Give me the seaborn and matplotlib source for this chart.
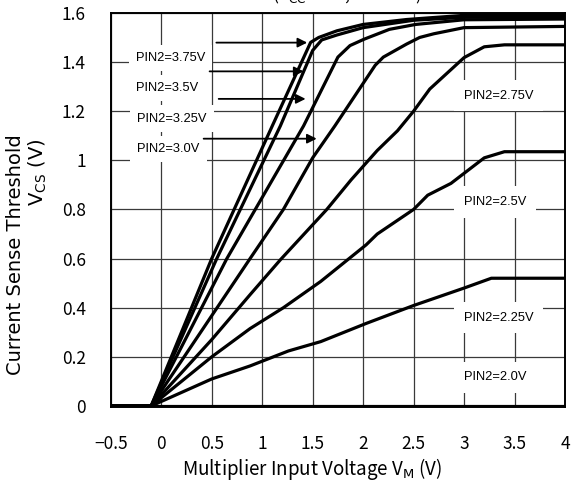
import matplotlib
matplotlib.use('Agg')
import matplotlib.pyplot as plt
import seaborn as sns
import pandas as pd

# ---- data (V_M in V, V_CS in V) ----
vm_375 = [-0.5, -0.1, 0.5, 1.1, 1.48, 1.56, 1.74, 2.0, 2.43, 2.66, 3.0, 4.0]
vcs_375 = [0, 0, 0.60, 1.14, 1.48, 1.50, 1.527, 1.553, 1.573, 1.58, 1.59, 1.592]

vm_350 = [-0.5, -0.1, 0.55, 1.18, 1.5, 1.59, 1.74, 2.0, 2.5, 3.0, 4.0]
vcs_350 = [0, 0, 0.60, 1.14, 1.447, 1.49, 1.51, 1.54, 1.57, 1.582, 1.585]

vm_325 = [-0.5, -0.1, 0.65, 1.41, 1.75, 1.87, 2.01, 2.26, 2.52, 3.0, 4.0]
vcs_325 = [0, 0, 0.60, 1.14, 1.42, 1.467, 1.493, 1.533, 1.553, 1.572, 1.575]

vm_300 = [-0.5, -0.1, 0.88, 1.21, 1.5, 1.72, 2.12, 2.2, 2.43, 2.56, 2.7, 3.0, 4.0]
vcs_300 = [0, 0, 0.60, 0.80, 1.01, 1.14, 1.387, 1.42, 1.473, 1.50, 1.515, 1.54, 1.545]

vm_275 = [-0.5, -0.1, 0.5, 0.88, 1.18, 1.64, 1.88, 2.14, 2.34, 2.5, 2.66, 3.0, 3.2, 3.4, 4.0]
vcs_275 = [0, 0, 0.27, 0.453, 0.595, 0.80, 0.92, 1.04, 1.12, 1.20, 1.29, 1.418, 1.462, 1.47, 1.47]

vm_250 = [-0.5, -0.1, 0.5, 0.88, 1.21, 1.58, 2.03, 2.14, 2.5, 2.64, 2.87, 3.2, 3.4, 4.0]
vcs_250 = [0, 0, 0.20, 0.315, 0.40, 0.507, 0.656, 0.70, 0.80, 0.858, 0.906, 1.01, 1.035, 1.035]

vm_225 = [-0.5, -0.1, 0.5, 0.88, 1.26, 1.58, 2.03, 2.5, 3.0, 3.27, 4.0]
vcs_225 = [0, 0, 0.11, 0.163, 0.224, 0.262, 0.336, 0.409, 0.48, 0.52, 0.52]

vm_200 = [-0.5, 4.0]
vcs_200 = [0, 0]

curves = {
    'PIN2=3.75V': (vm_375, vcs_375),
    'PIN2=3.5V': (vm_350, vcs_350),
    'PIN2=3.25V': (vm_325, vcs_325),
    'PIN2=3.0V': (vm_300, vcs_300),
    'PIN2=2.75V': (vm_275, vcs_275),
    'PIN2=2.5V': (vm_250, vcs_250),
    'PIN2=2.25V': (vm_225, vcs_225),
    'PIN2=2.0V': (vm_200, vcs_200),
}

x_ticks = [-0.5, 0, 0.5, 1, 1.5, 2, 2.5, 3, 3.5, 4]
x_tick_labels = ['\u22120.5', '0', '0.5', '1', '1.5', '2', '2.5', '3', '3.5', '4']
y_ticks = [0, 0.2, 0.4, 0.6, 0.8, 1.0, 1.2, 1.4, 1.6]
y_tick_labels = ['0', '0.2', '0.4', '0.6', '0.8', '1', '1.2', '1.4', '1.6']

rows = []
for name, (xs, ys) in curves.items():
    for xv, yv in zip(xs, ys):
        rows.append({'pin2': name, 'vm': xv, 'vcs': yv})
df = pd.DataFrame(rows)

sns.set_style('white')
plt.rcParams['font.family'] = ['Noto Sans CJK JP', 'DejaVu Sans']
plt.rcParams['axes.unicode_minus'] = True
plt.rcParams['text.color'] = 'black'

fig = plt.figure(figsize=(5.71, 4.96), dpi=100)
ax = fig.add_axes([0.194, 0.179, 0.7955, 0.795])

sns.lineplot(data=df, x='vm', y='vcs', hue='pin2', units='pin2',
             palette=['black'] * len(curves), estimator=None, sort=False,
             linewidth=2.3, legend=False, ax=ax, zorder=4)

ax.set_xlim(-0.5, 4.0)
ax.set_ylim(-0.005, 1.6)
ax.set_xticks(x_ticks)
ax.set_xticklabels(x_tick_labels)
ax.set_yticks(y_ticks)
ax.set_yticklabels(y_tick_labels)
ax.tick_params(axis='both', length=0, labelsize=12.5, colors='black')
ax.tick_params(axis='x', pad=20)
ax.tick_params(axis='y', pad=18)
ax.grid(True, color='#3a3a3a', linewidth=0.9)
ax.set_axisbelow(True)
for s in ax.spines.values():
    s.set_color('black')
    s.set_linewidth(1.4)
ax.set_xlabel('')
ax.set_ylabel('')

# curve labels
lab_font = dict(family='Liberation Sans', fontsize=9.3, color='black')
box = dict(boxstyle='square,pad=0.55', fc='white', ec='none')
left_labels = [
    ('PIN2=3.75V', 0.09, 1.415, 0.546, 1.479, 1.446),
    ('PIN2=3.5V', 0.054, 1.293, 0.479, 1.362, 1.41),
    ('PIN2=3.25V', 0.109, 1.17, 0.569, 1.25, 1.43),
    ('PIN2=3.0V', 0.07, 1.045, 0.42, 1.088, 1.54),
]
for txt, tx, ty, ax0, ay, ax1 in left_labels:
    ax.text(tx, ty, txt, ha='center', va='center', bbox=box, zorder=3, **lab_font)
    ax.annotate('', xy=(ax1, ay), xytext=(ax0, ay),
                arrowprops=dict(arrowstyle='-|>', color='black', lw=1.3,
                                mutation_scale=14, shrinkA=0, shrinkB=0),
                zorder=5)

right_labels = [
    ('PIN2=2.75V', 1.263),
    ('PIN2=2.5V', 0.831),
    ('PIN2=2.25V', 0.36),
    ('PIN2=2.0V', 0.117),
]
for txt, ty in right_labels:
    ax.text(3.0, ty, txt, ha='left', va='center', zorder=3,
            bbox=dict(boxstyle='square,pad=0.75', fc='white', ec='none'), **lab_font)

# axis titles
fig.text(0.546, 0.0545, 'Multiplier Input Voltage V$_\\mathrm{M}$ (V)',
         ha='center', va='center', fontsize=13.5, color='black')
fig.text(0.027, 0.486, 'Current Sense Threshold', rotation=90,
         ha='center', va='center', fontsize=14, family='DejaVu Sans', color='black')
fig.text(0.066, 0.653, 'V$_\\mathrm{CS}$ (V)', rotation=90,
         ha='center', va='center', fontsize=14, family='DejaVu Sans', color='black')
fig.text(0.608, 0.988, '(V$_\\mathrm{CC}$=12V,Ta=25°C)',
         ha='center', va='bottom', fontsize=12.5, color='black')

fig.savefig('out.png', dpi=100)
